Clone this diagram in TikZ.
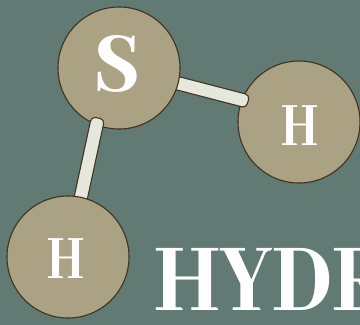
\documentclass[tikz,border=0pt]{standalone}
\usepackage{fontspec}
\usetikzlibrary{calc}
\setmainfont{Abhaya Libre}
\newfontfamily\titlefont[FakeStretch=0.87]{Abhaya Libre ExtraBold}
\newfontfamily\symfont[FakeStretch=0.76]{Abhaya Libre ExtraBold}
\newfontfamily\heavyfont[FakeStretch=0.92]{Abhaya Libre ExtraBold}
\definecolor{bgc}{HTML}{617A74}
\definecolor{atomc}{HTML}{AAA282}
\definecolor{edgec}{HTML}{40331F}
\definecolor{bondc}{HTML}{E6E8DC}
\pgfdeclarelayer{la}\pgfdeclarelayer{lb}\pgfdeclarelayer{lc}\pgfdeclarelayer{ld}\pgfdeclarelayer{le}
\pgfsetlayers{la,lb,lc,ld,le,main}
\tikzset{
  atom/.style={circle,draw=edgec,fill=atomc,line width=1.1pt,minimum size=122pt,inner sep=0pt,outer sep=0pt},
  bondbar/.style={draw=edgec,fill=bondc,line width=1.1pt,rounded corners=4.5pt},
  lab/.style={text=white,inner sep=0pt,anchor=base},
}
% #1 inner atom (hidden end), #2 free rounded end
\newcommand{\bondbar}[2]{%
  \draw[bondbar]
    ($(#1)!6.7pt!90:(#2)$) --
    ($(#2)!6.7pt!-90:(#1)$) --
    ($(#2)!6.7pt!90:(#1)$) --
    ($(#1)!6.7pt!-90:(#2)$) -- cycle;}
\begin{document}
\begin{tikzpicture}[x=1pt,y=-1pt]
\useasboundingbox (0,0) rectangle (360,325);
\begin{pgfonlayer}{la}
\fill[bgc] (0,0) rectangle (360,325);
\node[atom] (hr) at (299,122) {};
\end{pgfonlayer}
\begin{pgfonlayer}{lc}
\node[atom] (s) at (119,68) {};
\end{pgfonlayer}
\begin{pgfonlayer}{le}
\node[atom] (hl) at (68,257) {};
\end{pgfonlayer}
\coordinate (capr) at (248,101.5);
\coordinate (capl) at (98,118);
\begin{pgfonlayer}{lb}
\bondbar{s.center}{capr}
\end{pgfonlayer}
\begin{pgfonlayer}{ld}
\bondbar{hl.center}{capl}
\end{pgfonlayer}
\node[lab,font=\fontsize{94}{94}\heavyfont] (ts) at (117,91) {S};
\node[lab,font=\fontsize{68}{68}\symfont] (th1) at (300.5,145) {H};
\node[lab,font=\fontsize{68}{68}\symfont] (th2) at (66.5,278) {H};
\node[lab,anchor=base west,font=\fontsize{106}{106}\titlefont] (title) at (154,310) {HYDR};
\end{tikzpicture}
\end{document}
